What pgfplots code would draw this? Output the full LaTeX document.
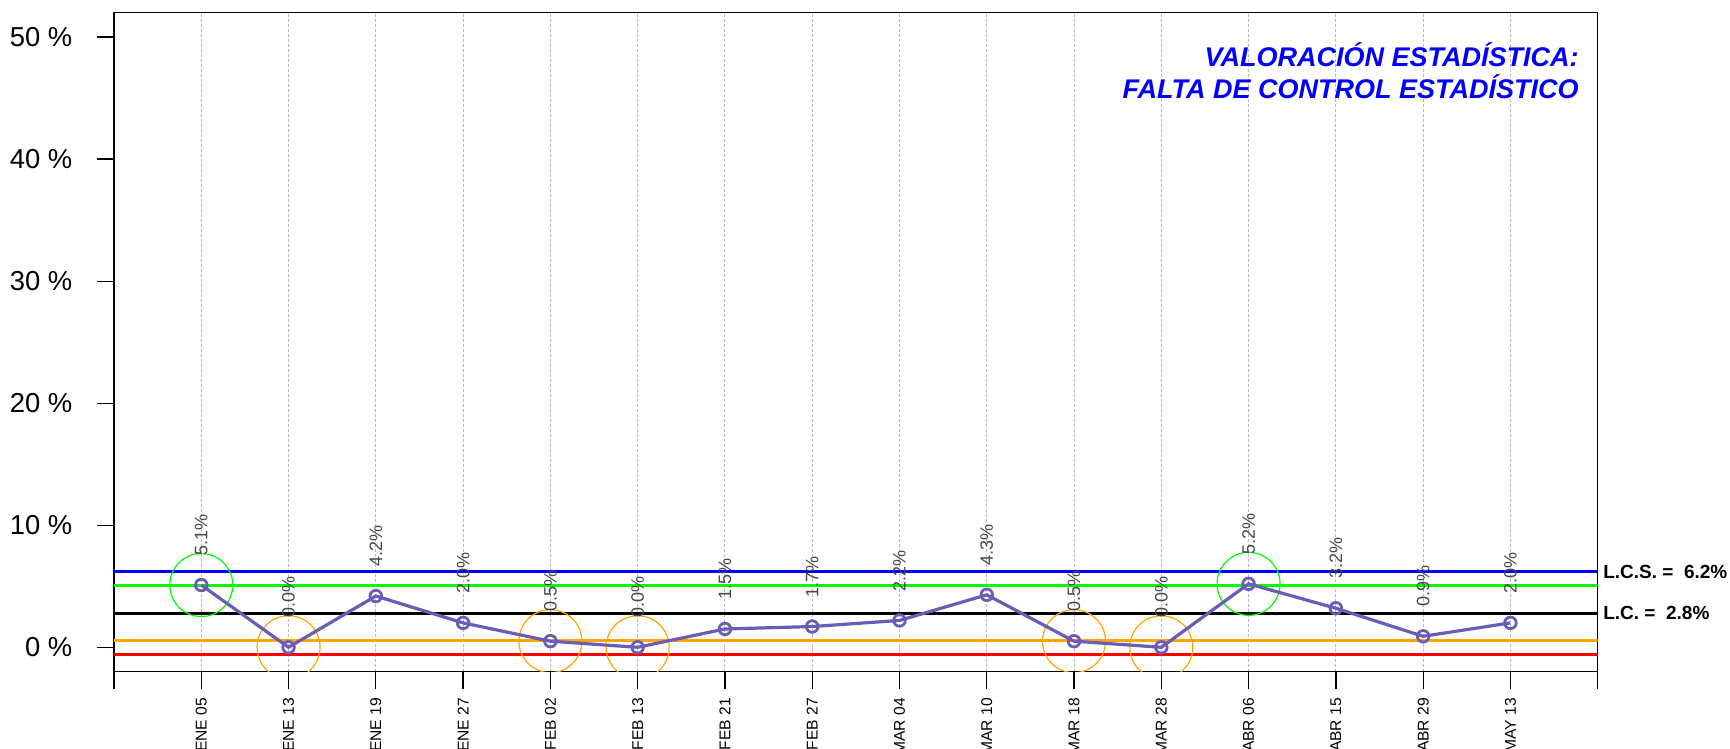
\documentclass[border=0pt]{standalone}
\usepackage{pgfplots}
\pgfplotsset{compat=1.18}
\usepackage{fontspec}
\setmainfont{Liberation Sans}
\definecolor{lineP}{RGB}{108,92,182}
\definecolor{orangeR}{RGB}{255,165,0}
\definecolor{greenR}{RGB}{0,255,0}
\definecolor{blueR}{RGB}{0,0,255}
\definecolor{redR}{RGB}{255,0,0}
\begin{document}
\begin{tikzpicture}
\begin{axis}[
  width=741.85pt, height=329.5pt, scale only axis,
  xmin=0, xmax=17, ymin=-2, ymax=52,
  clip marker paths=true,
  axis line style={line width=0.65pt, black},
  xtick={0,1,...,17},
  xticklabels={,ENE 05,ENE 13,ENE 19,ENE 27,FEB 02,FEB 13,FEB 21,FEB 27,MAR 04,MAR 10,MAR 18,MAR 28,ABR 06,ABR 15,ABR 29,MAY 13,},
  ytick={0,10,20,30,40,50},
  yticklabels={0 \%,10 \%,20 \%,30 \%,40 \%,50 \%},
  tick align=outside, xtick pos=bottom, ytick pos=left,
  major tick length=8.65pt,
  tick style={black, line width=0.65pt},
  xticklabel style={font=\fontsize{7.8}{8}\selectfont, yshift=-4.4pt, rotate=90, anchor=east, inner sep=0pt},
  yticklabel style={font=\fontsize{13.7}{15}\selectfont, anchor=east, inner sep=0pt, xshift=-12pt},
  xmajorgrids, grid style={gray!55, dash pattern=on 1.2pt off 1.3pt, line width=0.5pt},
]
% control lines
\addplot[blueR, line width=1.5pt] coordinates {(0,6.2) (17,6.2)};
\addplot[greenR, line width=1.5pt] coordinates {(0,5.07) (17,5.07)};
\addplot[black, line width=1.5pt] coordinates {(0,2.8) (17,2.8)};
\addplot[orangeR, line width=1.5pt] coordinates {(0,0.53) (17,0.53)};
\addplot[redR, line width=1.5pt] coordinates {(0,-0.6) (17,-0.6)};
% highlight circles
\addplot[only marks, mark=o, mark size=15.75pt, greenR, mark options={line width=0.6pt}] coordinates {(1,5.1) (13,5.2)};
\addplot[only marks, mark=o, mark size=15.75pt, orangeR, mark options={line width=0.6pt}] coordinates {(2,0.0) (5,0.5) (6,0.0) (11,0.5) (12,0.0)};
% main series
\addplot[lineP, line width=1.6pt, mark=o, mark size=2.9pt, mark options={line width=1.4pt, solid},
  point meta=explicit symbolic, nodes near coords,
  every node near coord/.append style={font=\fontsize{9}{10}\selectfont, text=black!72, yshift=14pt, rotate=90, anchor=west, inner sep=0pt}]
coordinates {
 (1,5.1) [5.1\%]
 (2,0.0) [0.0\%]
 (3,4.2) [4.2\%]
 (4,2.0) [2.0\%]
 (5,0.5) [0.5\%]
 (6,0.0) [0.0\%]
 (7,1.5) [1.5\%]
 (8,1.7) [1.7\%]
 (9,2.2) [2.2\%]
 (10,4.3) [4.3\%]
 (11,0.5) [0.5\%]
 (12,0.0) [0.0\%]
 (13,5.2) [5.2\%]
 (14,3.2) [3.2\%]
 (15,0.9) [0.9\%]
 (16,2.0) [2.0\%]
};
\coordinate (SW) at (rel axis cs:0,0);
\coordinate (NE) at (rel axis cs:1,1);
\coordinate (T1) at (axis cs:16.785,47.55);
\coordinate (T2) at (axis cs:16.785,44.96);
\coordinate (L1) at (axis cs:17,6.2);
\coordinate (L2) at (axis cs:17,2.8);
\end{axis}
\node[anchor=base east, inner sep=0pt, text=blueR, font=\fontsize{13.5}{15}\selectfont\bfseries\itshape] at (T1) {VALORACIÓN ESTADÍSTICA:};
\node[anchor=base east, inner sep=0pt, text=blueR, font=\fontsize{13.5}{15}\selectfont\bfseries\itshape] at (T2) {FALTA DE CONTROL ESTADÍSTICO};
\node[anchor=west, inner sep=0pt, xshift=2.6pt, font=\fontsize{9.5}{10}\selectfont\bfseries] at (L1) {L.C.S. =\ \ 6.2\%};
\node[anchor=west, inner sep=0pt, xshift=2.6pt, font=\fontsize{9.5}{10}\selectfont\bfseries] at (L2) {L.C. =\ \ 2.8\%};
\pgfresetboundingbox
\path[use as bounding box] ([shift={(-57pt,-38.65pt)}]SW) rectangle ([shift={(66.15pt,6.35pt)}]NE);
\end{tikzpicture}
\end{document}
